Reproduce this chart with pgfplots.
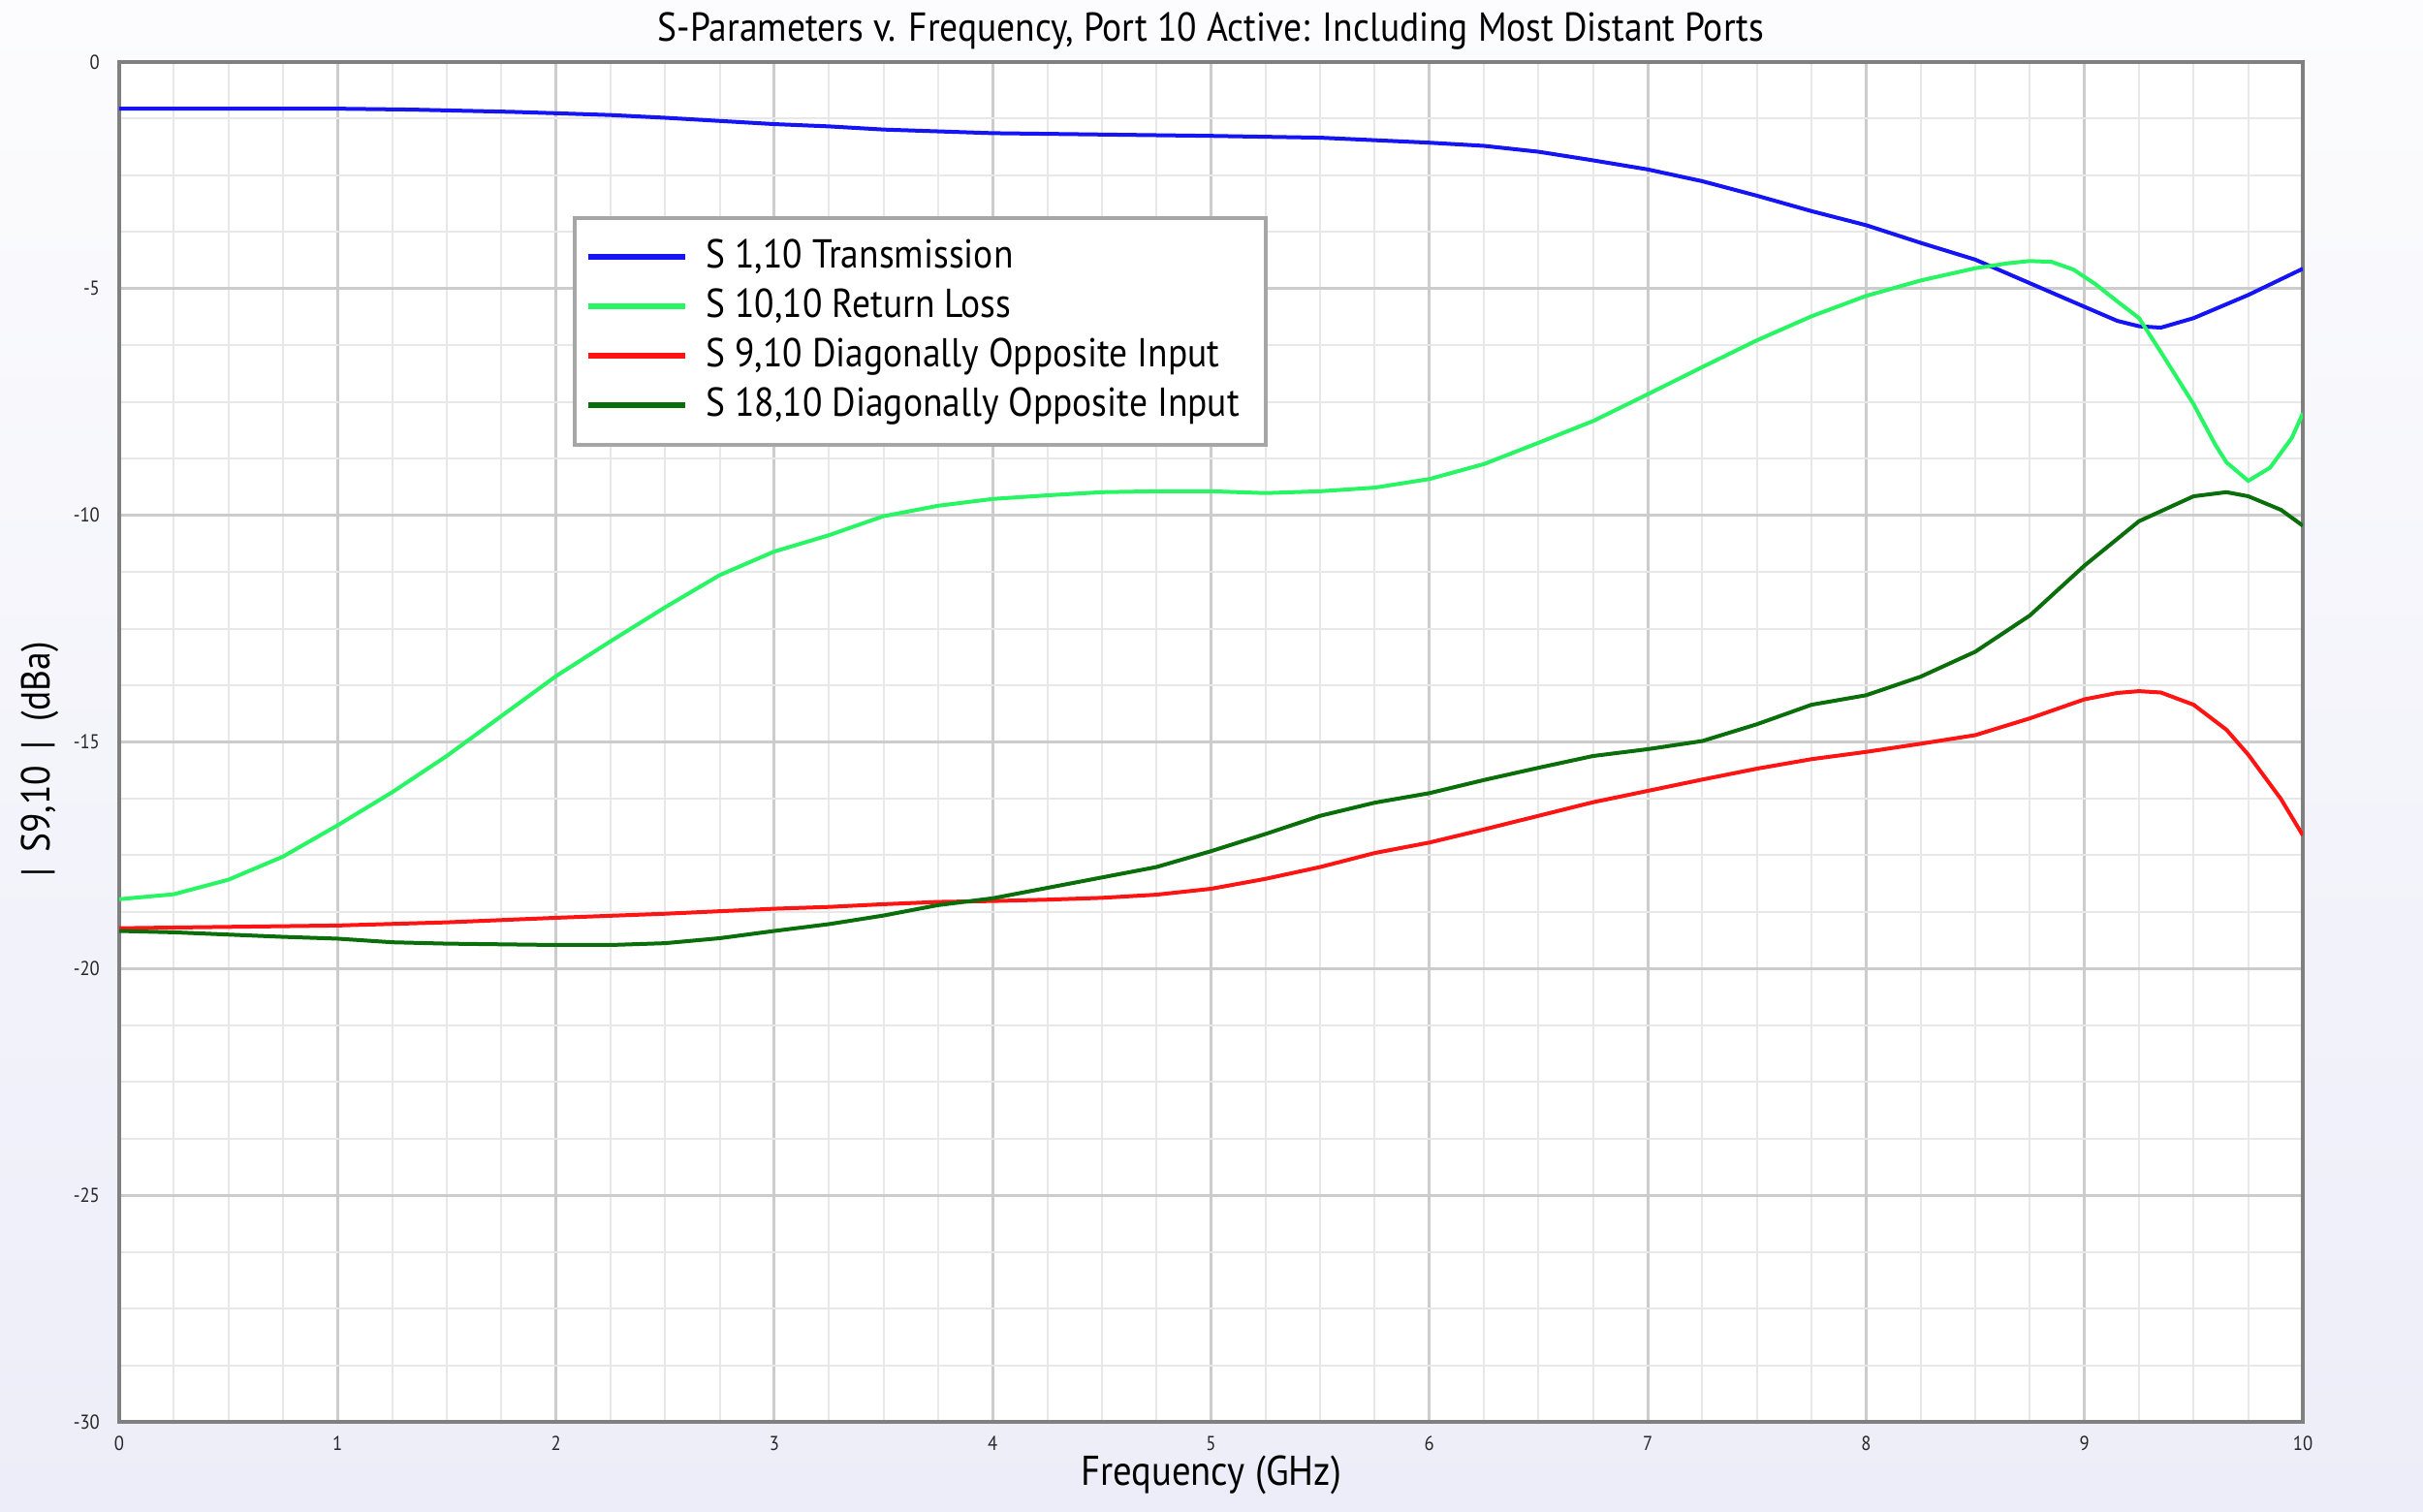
\documentclass[border=0pt]{standalone}
\usepackage{fontspec}
\setmainfont[FakeStretch=0.9]{PT Sans}
\usepackage{pgfplots}
\pgfplotsset{compat=1.18}

\definecolor{sBlue}{RGB}{20,20,245}
\definecolor{sLime}{RGB}{40,245,100}
\definecolor{sRed}{RGB}{255,20,20}
\definecolor{sDark}{RGB}{10,110,10}
\definecolor{bgTop}{RGB}{252,252,254}
\definecolor{bgBot}{RGB}{236,237,248}

\begin{document}
\begin{tikzpicture}
\shade[top color=bgTop, bottom color=bgBot] (-36.9pt,-27.9pt) rectangle (713.1pt,440.1pt);
\begin{axis}[
  at={(0,0)}, anchor=south west,
  scale only axis, width=675.9pt, height=420.9pt,
  xmin=0, xmax=10, ymin=-30, ymax=0,
  xtick={0,1,...,10}, ytick={-30,-25,...,0},
  minor x tick num=3, minor y tick num=3,
  major tick length=0pt, minor tick length=0pt,
  grid=both,
  major grid style={draw=black!20, line width=0.9pt},
  minor grid style={draw=black!9, line width=0.6pt},
  axis line style={draw=black!50, line width=1pt},
  axis background/.style={fill=white},
  /pgf/number format/assume math mode=true,
  ticklabel style={font=\fontsize{6.2}{7}\selectfont, text=black!85},
  yticklabel style={anchor=east, xshift=-2.5pt},
  xticklabel style={anchor=north, yshift=-1pt},
  title={S-Parameters v. Frequency, Port 10 Active: Including Most Distant Ports},
  title style={at={(axis description cs:0.5,1)}, anchor=center, yshift=3.6pt, font=\fontsize{12.5}{14}\selectfont},
  xlabel={Frequency (GHz)},
  xlabel style={at={(axis description cs:0.5,0)}, anchor=center, yshift=-16.5pt, font=\fontsize{12.9}{14}\selectfont},
  ylabel={|\hspace{5pt}S9,10\hspace{5pt}|\hspace{6pt}(dBa)},
  ylabel style={at={(axis description cs:0,0.487)}, anchor=center, yshift=24.5pt, font=\fontsize{12.5}{14}\selectfont},
  legend cell align=left,
  legend style={at={(axis description cs:0.2077,0.8867)}, anchor=north west,
    draw=black!35, line width=1.2pt, fill=white,
    font=\fontsize{12.5}{14}\selectfont,
    inner xsep=3.2pt, inner ysep=4.5pt,
    nodes={text height=9pt, text depth=2.5pt, inner ysep=1.9pt, inner xsep=5pt}},
  legend image code/.code={\draw[line width=1.8pt] (0pt,0pt) -- (30pt,0pt); \path (31pt,0pt);},
  every axis plot/.append style={line width=1.2pt},
]
% S 1,10 transmission
\addplot[sBlue] coordinates {
(0,-1.03) (1.0,-1.03) (1.34,-1.05) (1.8,-1.10) (2.0,-1.13) (2.25,-1.17) (2.5,-1.23)
(2.75,-1.30) (3.0,-1.37) (3.25,-1.42) (3.5,-1.49) (3.75,-1.53) (4.0,-1.57) (4.5,-1.60)
(5.0,-1.63) (5.5,-1.67) (6.0,-1.78) (6.25,-1.85) (6.5,-1.98) (6.75,-2.17) (7.0,-2.37)
(7.25,-2.63) (7.5,-2.95) (7.75,-3.29) (8.0,-3.60) (8.25,-3.99) (8.5,-4.36) (8.75,-4.88)
(9.0,-5.40) (9.15,-5.71) (9.25,-5.83) (9.35,-5.86) (9.5,-5.65) (9.75,-5.14) (10,-4.56)
};
\addlegendentry{S 1,10 Transmission}
% S 10,10 return loss
\addplot[sLime] coordinates {
(0,-18.47) (0.25,-18.36) (0.5,-18.04) (0.75,-17.53) (1.0,-16.84) (1.25,-16.11)
(1.5,-15.31) (1.75,-14.43) (2.0,-13.55) (2.25,-12.78) (2.5,-12.03) (2.75,-11.32)
(3.0,-10.80) (3.25,-10.44) (3.5,-10.02) (3.75,-9.79) (4.0,-9.64) (4.25,-9.56)
(4.5,-9.49) (4.75,-9.47) (5.0,-9.47) (5.25,-9.51) (5.5,-9.47) (5.75,-9.39) (6.0,-9.20)
(6.25,-8.87) (6.5,-8.40) (6.75,-7.92) (7.0,-7.33) (7.25,-6.73) (7.5,-6.14) (7.75,-5.61)
(8.0,-5.16) (8.25,-4.82) (8.5,-4.55) (8.65,-4.44) (8.75,-4.39) (8.85,-4.41) (8.95,-4.58)
(9.05,-4.90) (9.15,-5.28) (9.25,-5.65) (9.35,-6.40) (9.5,-7.55) (9.6,-8.45) (9.65,-8.83)
(9.75,-9.24) (9.85,-8.95) (9.95,-8.29) (10,-7.75)
};
\addlegendentry{S 10,10 Return Loss}
% S 9,10 diagonally opposite input
\addplot[sRed] coordinates {
(0,-19.11) (0.5,-19.08) (1.0,-19.05) (1.5,-18.98) (2.0,-18.88) (2.5,-18.79) (3.0,-18.68)
(3.25,-18.64) (3.5,-18.58) (3.75,-18.53) (4.0,-18.51) (4.25,-18.48) (4.5,-18.44)
(4.75,-18.37) (5.0,-18.24) (5.25,-18.02) (5.5,-17.76) (5.75,-17.45) (6.0,-17.22)
(6.25,-16.93) (6.5,-16.63) (6.75,-16.33) (7.0,-16.08) (7.25,-15.83) (7.5,-15.59)
(7.75,-15.38) (8.0,-15.22) (8.25,-15.04) (8.5,-14.85) (8.75,-14.48) (9.0,-14.06)
(9.15,-13.92) (9.25,-13.88) (9.35,-13.91) (9.5,-14.18) (9.65,-14.73) (9.75,-15.28)
(9.9,-16.26) (10,-17.06)
};
\addlegendentry{S 9,10 Diagonally Opposite Input}
% S 18,10 diagonally opposite input
\addplot[sDark] coordinates {
(0,-19.17) (0.25,-19.20) (0.5,-19.25) (0.75,-19.30) (1.0,-19.34) (1.25,-19.42)
(1.5,-19.45) (2.0,-19.48) (2.25,-19.48) (2.5,-19.44) (2.75,-19.33) (3.0,-19.17)
(3.25,-19.02) (3.5,-18.83) (3.75,-18.60) (4.0,-18.45) (4.25,-18.22) (4.5,-17.99)
(4.75,-17.76) (5.0,-17.41) (5.25,-17.03) (5.5,-16.63) (5.75,-16.34) (6.0,-16.13)
(6.25,-15.84) (6.5,-15.57) (6.75,-15.31) (7.0,-15.16) (7.25,-14.98) (7.5,-14.61)
(7.75,-14.18) (8.0,-13.97) (8.25,-13.56) (8.5,-13.01) (8.75,-12.21) (9.0,-11.11)
(9.25,-10.13) (9.5,-9.58) (9.65,-9.49) (9.75,-9.58) (9.9,-9.88) (10,-10.23)
};
\addlegendentry{S 18,10 Diagonally Opposite Input}
\end{axis}
\pgfresetboundingbox
\path[use as bounding box] (-36.9pt,-27.9pt) rectangle (713.1pt,440.1pt);
\end{tikzpicture}
\end{document}
